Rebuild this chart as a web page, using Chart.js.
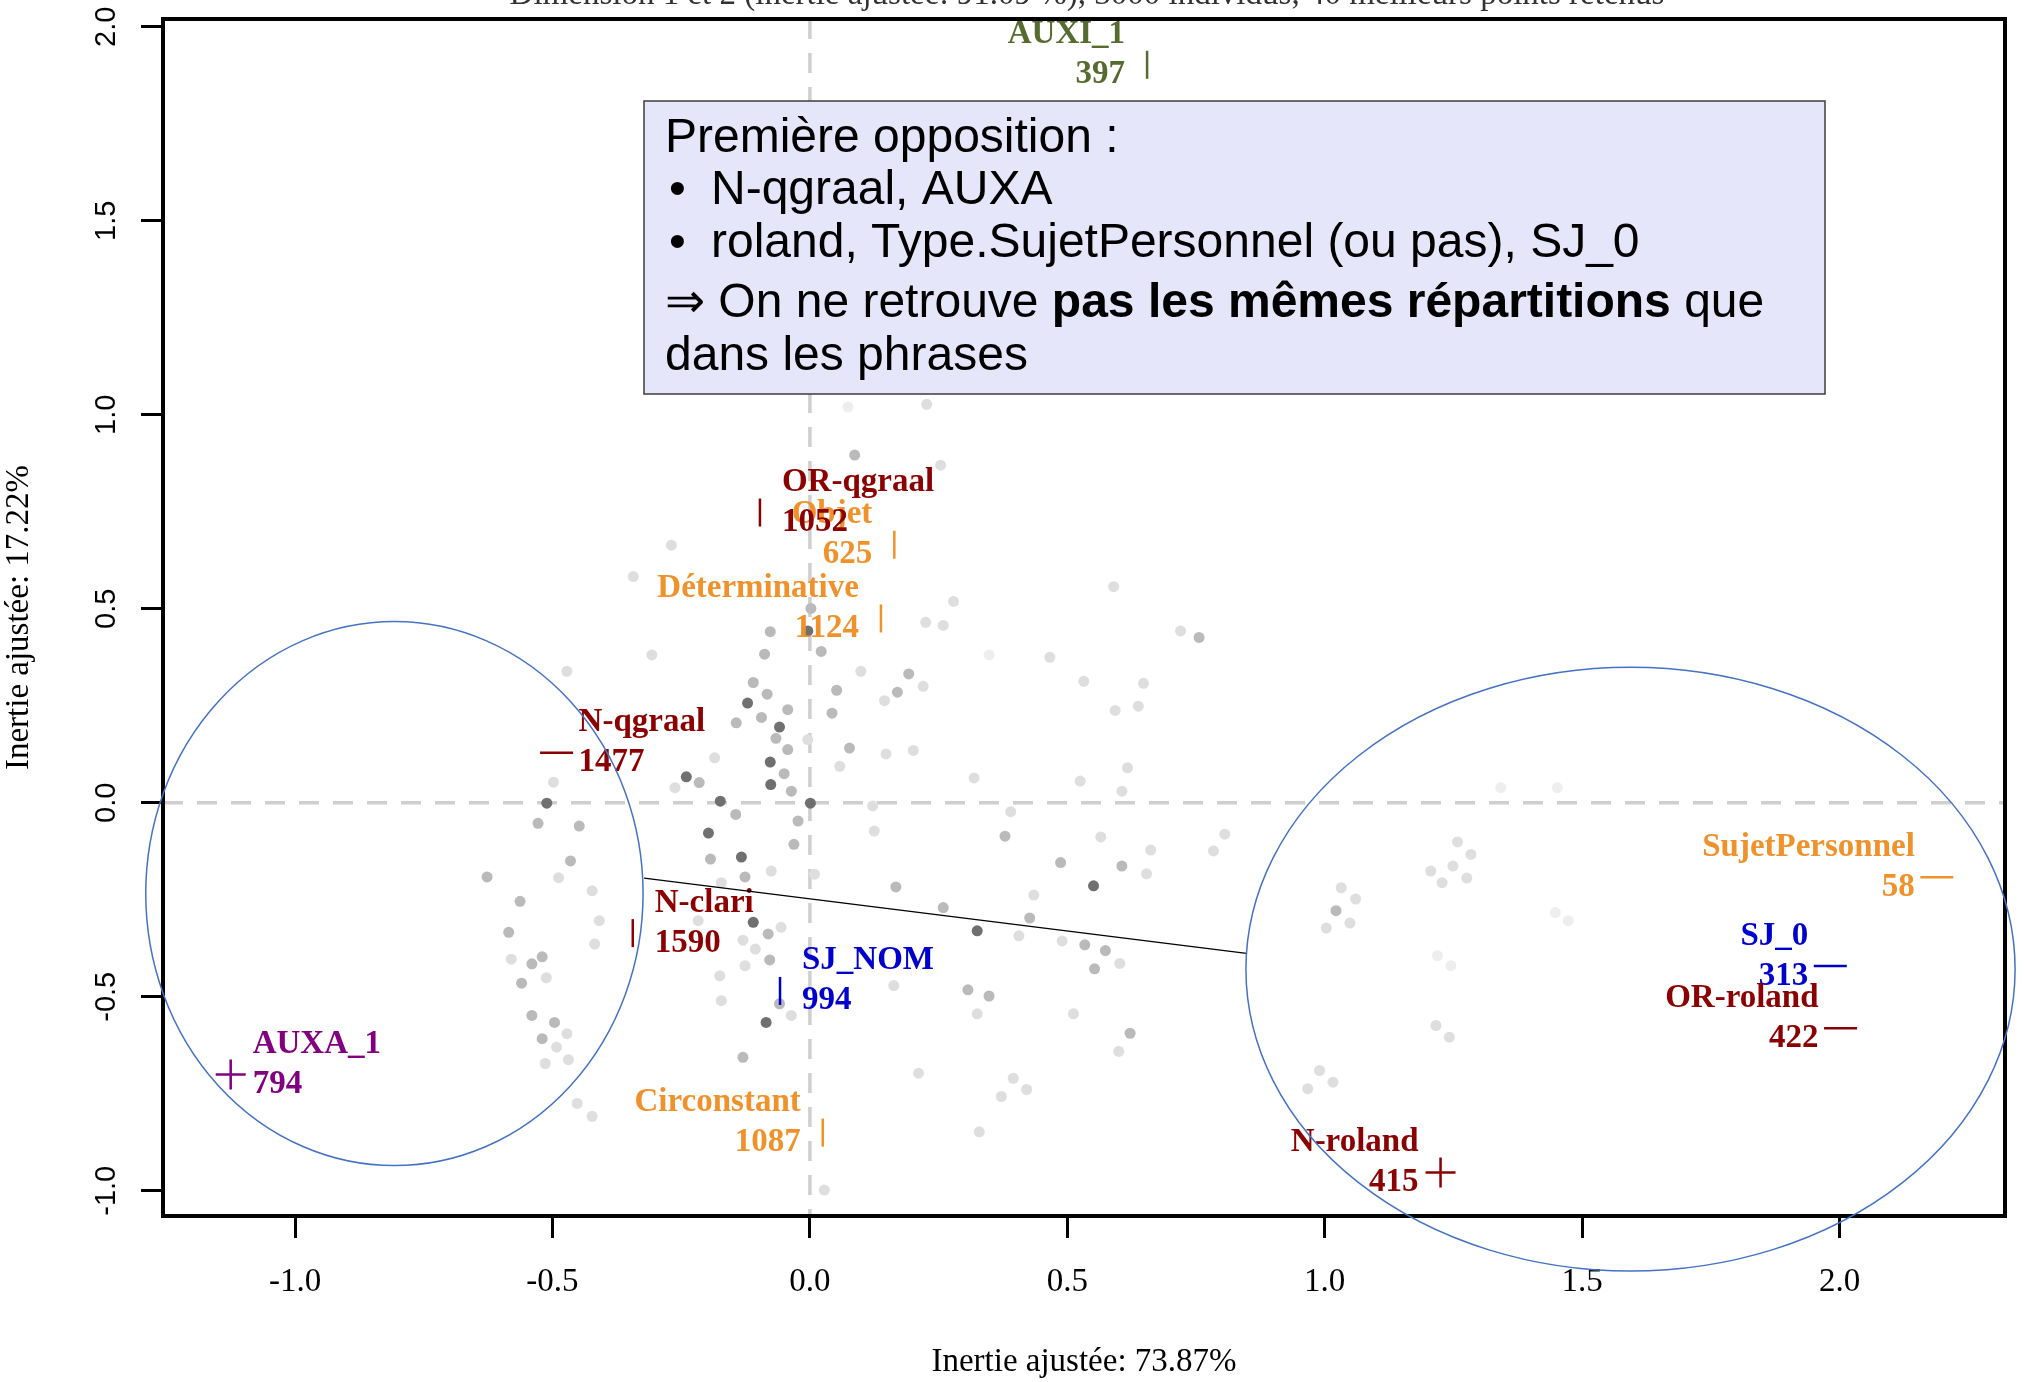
<!DOCTYPE html>
<html>
<head>
<meta charset="utf-8">
<script src="https://cdn.jsdelivr.net/npm/chart.js@4.4.0/dist/chart.umd.min.js"></script>
<style>
  html, body { margin: 0; padding: 0; background: #fff; }
  canvas { display: block; }
</style>
</head>
<body>
<canvas id="afc" width="2024" height="1382"></canvas>
<script>
// Modalités projetées
const catNames  = ['AUXI_1', 'Objet', 'OR-qgraal', 'Déterminative', 'N-qgraal', 'N-clari', 'SJ_NOM',
                   'AUXA_1', 'Circonstant', 'N-roland', 'SujetPersonnel', 'SJ_0', 'OR-roland'];
const catCounts = [397, 625, 1052, 1124, 1477, 1590, 994, 794, 1087, 415, 58, 313, 422];
const catX = [0.655, 0.164, -0.097, 0.138, -0.492, -0.344, -0.058, -1.125, 0.025, 1.225, 2.189, 1.982, 2.002];
const catY = [1.902, 0.665, 0.748, 0.475, 0.129, -0.336, -0.485, -0.700, -0.850, -0.953, -0.192, -0.421, -0.581];

// Individus (points gris, par intensité)
const darkX = [-0.121, -0.059, -0.077, -0.240, -0.174, 0.001, -0.197, -0.133, -0.110, 0.551, 0.325, -0.511, -0.076, -0.004, -0.085];
const darkY = [0.257, 0.195, 0.105, 0.067, 0.004, -0.001, -0.078, -0.140, -0.308, -0.214, -0.330, -0.001, 0.047, 0.443, -0.566];

const midX = [-0.110, -0.066, -0.043, -0.094, -0.036, -0.023, -0.031, 0.043, 0.077, 0.052, -0.083, -0.143, -0.050,
              -0.193, -0.126, -0.448, -0.528, -0.465, -0.627, -0.563, -0.215, -0.144, -0.088, -0.077, 0.022, -0.043,
              -0.585, -0.540, -0.520, -0.560, -0.540, -0.496, -0.520, -0.081, -0.078, -0.130, -0.059, 0.756, 0.192,
              0.170, 0.379, 0.487, 0.606, 0.259, 0.427, 0.534, 0.574, 0.553, 0.307, 0.348, 0.622, 1.022, 0.167,
              0.087, 0.002];
const midY = [0.310, 0.166, 0.137, 0.220, 0.030, -0.047, -0.107, 0.231, 0.141, 0.290, 0.280, 0.206, 0.075,
              -0.145, -0.191, -0.060, -0.053, -0.150, -0.191, -0.254, 0.052, -0.030, 0.383, 0.441, 0.390, 0.240,
              -0.334, -0.415, -0.397, -0.465, -0.548, -0.566, -0.608, -0.338, -0.405, -0.656, -0.518, 0.426, 0.332,
              0.285, -0.086, -0.154, -0.163, -0.270, -0.297, -0.366, -0.381, -0.428, -0.482, -0.498, -0.594, -0.278, -0.217,
              0.896, 0.501];

const lightX = [-0.512, -0.580, -0.492, -0.472, -0.514, -0.469, -0.452, -0.423, -0.409, -0.418, -0.130, -0.106, -0.126,
                -0.175, -0.036, -0.172, -0.056, 0.028, -0.217, 0.220, 0.145, 0.259, 0.279, 0.225, 0.466, 0.532, 0.648,
                0.593, 0.638, 0.720, 0.590, 0.201, 0.148, 0.617, 0.606, 0.525, 0.390, 0.565, 0.662, 0.806, 0.784, 0.319,
                0.654, 0.435, 0.406, 0.490, 0.602, 0.325, 0.600, 0.395, 0.372, 0.421, 0.329, 0.211, 0.163, 0.512,
                1.258, 1.284, 1.249, 1.276, 1.206, 1.228, 1.032, 1.049, 1.003, 1.060, 1.216, 1.242, 0.990, 0.967, 1.016,
                0.099, 0.122, 0.125, -0.472, -0.307, -0.185, -0.004, -0.262, 0.058, -0.423, -0.488, -0.172, -0.498,
                -0.075, 0.009, 0.227, -0.343, -0.269, 0.254];
const lightY = [-0.451, -0.403, -0.630, -0.595, -0.672, -0.662, -0.775, -0.808, -0.304, -0.364, -0.354, -0.377, -0.420,
                -0.446, -0.548, -0.510, -0.321, -0.998, -0.304, 0.300, 0.263, 0.457, 0.519, 0.465, 0.375, 0.313, 0.308,
                0.238, 0.249, 0.443, 0.557, 0.135, 0.126, 0.090, 0.030, 0.056, -0.023, -0.088, -0.122, -0.081, -0.124, 0.064,
                -0.183, -0.238, -0.343, -0.356, -0.414, -0.544, -0.641, -0.710, -0.757, -0.739, -0.848, -0.697, -0.471, -0.544,
                -0.101, -0.133, -0.163, -0.194, -0.176, -0.206, -0.219, -0.310, -0.323, -0.248, -0.574, -0.604, -0.690, -0.737, -0.720,
                0.339, -0.008, -0.073, 0.339, 0.381, 0.116, 0.163, 0.039, 0.094, -0.227, -0.193, -0.206, 0.053,
                -0.176, -0.184, 1.027, 0.583, 0.664, 0.870];

const faintX = [1.219, 1.245, 1.448, 1.473, 1.342, 1.452, 0.348, 0.074];
const faintY = [-0.394, -0.420, -0.283, -0.304, 0.039, 0.039, 0.381, 1.020];

const xTicks = [-1.0, -0.5, 0.0, 0.5, 1.0, 1.5, 2.0];
const yTicks = [-1.0, -0.5, 0.0, 0.5, 1.0, 1.5, 2.0];

// style des modalités
const RED = '#8B0000', ORANGE = '#F0922B', BLUE = '#0000CD';
const catColors = ['#556B2F', ORANGE, RED, ORANGE, RED, RED, BLUE, '#800080', ORANGE, RED, ORANGE, BLUE, RED];
const catShape  = ['v', 'v', 'v', 'v', 'h', 'v', 'v', '+', 'v', '+', 'h', 'h', 'h'];
const catSide   = ['L', 'L', 'R', 'L', 'R', 'R', 'R', 'R', 'L', 'L', 'L', 'L', 'L'];

// annotations ajoutées par dessus (coordonnées dans le repère)
const ellipses = [
  {cx: -0.807, cy: -0.234, rx: 0.483, ry: 0.701},
  {cx: 1.594, cy: -0.429, rx: 0.747, ry: 0.778}
];
const link = {x1: -0.322, y1: -0.194, x2: 0.848, y2: -0.388};

const pts = (xs, ys) => xs.map((x, i) => ({x, y: ys[i]}));
const SERIF = '"Liberation Serif", "DejaVu Serif", serif';
const SANS = '"Liberation Sans", Arial, sans-serif';

const zeroLines = {
  id: 'zeroLines',
  beforeDatasetsDraw(chart) {
    const {ctx, chartArea: a, scales: {x, y}} = chart;
    const x0 = x.getPixelForValue(0), y0 = y.getPixelForValue(0);
    ctx.save();
    ctx.strokeStyle = '#cfcfcf';
    ctx.lineWidth = 3.5;
    ctx.setLineDash([20, 14]);
    ctx.beginPath();
    ctx.moveTo(a.left, y0); ctx.lineTo(a.right, y0);
    ctx.moveTo(x0, a.top); ctx.lineTo(x0, a.bottom);
    ctx.stroke();
    ctx.restore();
  }
};

const catLabels = {
  id: 'catLabels',
  afterDatasetsDraw(chart) {
    const ctx = chart.ctx;
    const meta = chart.getDatasetMeta(0);
    ctx.save();
    ctx.font = 'bold 33px ' + SERIF;
    ctx.textBaseline = 'middle';
    meta.data.forEach((pt, i) => {
      const right = catSide[i] === 'R';
      const tx = pt.x + (right ? 22 : -22);
      ctx.textAlign = right ? 'left' : 'right';
      ctx.fillStyle = catColors[i];
      ctx.fillText(catNames[i], tx, pt.y - 30);
      ctx.fillText(String(catCounts[i]), tx, pt.y + 10);
    });
    ctx.restore();
  }
};

const frame = {
  id: 'frame',
  afterDraw(chart) {
    const {ctx, chartArea: a, scales: {x, y}} = chart;
    ctx.save();

    // cadre
    ctx.strokeStyle = '#000';
    ctx.lineWidth = 4;
    ctx.strokeRect(a.left, a.top, a.right - a.left, a.bottom - a.top);

    // étiquettes de l'axe vertical (verticales, comme dans R)
    ctx.fillStyle = '#000';
    ctx.font = '29px ' + SANS;
    ctx.textAlign = 'center';
    ctx.textBaseline = 'middle';
    y.ticks.forEach(t => {
      ctx.save();
      ctx.translate(107, y.getPixelForValue(t.value));
      ctx.rotate(-Math.PI / 2);
      ctx.fillText(t.value.toFixed(1), 0, 0);
      ctx.restore();
    });

    // titre (coupé en haut de l'image)
    ctx.fillStyle = '#333';
    ctx.font = '33px ' + SERIF;
    ctx.textBaseline = 'alphabetic';
    ctx.fillText('Dimension 1 et 2 (inertie ajustée: 91.09 %), 3000 individus, 40 meilleurs points retenus', 1087, 4);

    // trait de liaison
    ctx.strokeStyle = '#000';
    ctx.lineWidth = 1.3;
    ctx.beginPath();
    ctx.moveTo(x.getPixelForValue(link.x1), y.getPixelForValue(link.y1));
    ctx.lineTo(x.getPixelForValue(link.x2), y.getPixelForValue(link.y2));
    ctx.stroke();

    // ellipses
    ctx.strokeStyle = '#4472C4';
    ctx.lineWidth = 1.5;
    ellipses.forEach(e => {
      const cx = x.getPixelForValue(e.cx), cy = y.getPixelForValue(e.cy);
      const rx = Math.abs(x.getPixelForValue(e.cx + e.rx) - cx);
      const ry = Math.abs(y.getPixelForValue(e.cy + e.ry) - cy);
      ctx.beginPath();
      ctx.ellipse(cx, cy, rx, ry, 0, 0, 2 * Math.PI);
      ctx.stroke();
    });

    // encadré de commentaire
    ctx.fillStyle = '#E6E6FA';
    ctx.fillRect(644, 101, 1181, 293);
    ctx.strokeStyle = '#3c3c3c';
    ctx.lineWidth = 1.5;
    ctx.strokeRect(644, 101, 1181, 293);

    ctx.fillStyle = '#000';
    ctx.textAlign = 'left';
    ctx.textBaseline = 'middle';
    const normal = '48px ' + SANS, bold = 'bold 48px ' + SANS;
    ctx.font = normal;
    ctx.fillText('Première opposition :', 665, 139);
    ctx.fillText('•', 669, 191);
    ctx.fillText('N-qgraal, AUXA', 711, 191);
    ctx.fillText('•', 669, 244);
    ctx.fillText('roland, Type.SujetPersonnel (ou pas), SJ_0', 711, 244);
    let cx = 665;
    const runs = [['⇒ On ne retrouve ', normal], ['pas les mêmes répartitions', bold], [' que', normal]];
    runs.forEach(([txt, f]) => {
      ctx.font = f;
      ctx.fillText(txt, cx, 304);
      cx += ctx.measureText(txt).width;
    });
    ctx.font = normal;
    ctx.fillText('dans les phrases', 665, 357);

    ctx.restore();
  }
};

new Chart(document.getElementById('afc'), {
  type: 'scatter',
  data: {
    datasets: [
      {
        data: pts(catX, catY),
        pointStyle: catShape.map(s => s === '+' ? 'cross' : 'line'),
        pointRotation: catShape.map(s => s === 'v' ? 90 : 0),
        pointRadius: catShape.map(s => s === 'h' ? 16.5 : (s === '+' ? 15 : 14)),
        pointBorderColor: catColors,
        pointBackgroundColor: catColors,
        pointBorderWidth: 2.5
      },
      { data: pts(darkX, darkY), pointRadius: 5.5, pointBorderWidth: 0, pointBackgroundColor: 'rgb(112,112,112)' },
      { data: pts(midX, midY), pointRadius: 5.5, pointBorderWidth: 0, pointBackgroundColor: 'rgb(186,186,186)' },
      { data: pts(lightX, lightY), pointRadius: 5.5, pointBorderWidth: 0, pointBackgroundColor: 'rgb(222,222,222)' },
      { data: pts(faintX, faintY), pointRadius: 5.5, pointBorderWidth: 0, pointBackgroundColor: 'rgb(238,238,238)' }
    ]
  },
  options: {
    responsive: false,
    animation: false,
    devicePixelRatio: 1,
    layout: { padding: { top: 16, right: 13, left: 0, bottom: 0 } },
    plugins: { legend: { display: false }, tooltip: { enabled: false } },
    scales: {
      x: {
        type: 'linear',
        min: -1.2565,
        max: 2.3214,
        afterBuildTicks: s => { s.ticks = xTicks.map(v => ({value: v})); },
        afterFit: s => { s.height = 166; s.paddingLeft = 0; s.paddingRight = 0; },
        border: { display: false },
        grid: { display: true, drawOnChartArea: false, drawTicks: true, tickLength: 22, tickWidth: 3, tickColor: '#000' },
        ticks: {
          font: { family: SERIF, size: 33 },
          color: '#000',
          padding: 25,
          maxRotation: 0,
          autoSkip: false,
          callback: v => Number(v).toFixed(1)
        },
        title: {
          display: true,
          text: 'Inertie ajustée: 73.87%',
          font: { family: SERIF, size: 33 },
          color: '#000',
          padding: { top: 0, bottom: 0 }
        }
      },
      y: {
        type: 'linear',
        min: -1.065,
        max: 2.02,
        afterBuildTicks: s => { s.ticks = yTicks.map(v => ({value: v})); },
        afterFit: s => { s.width = 163; s.paddingTop = 0; s.paddingBottom = 0; },
        border: { display: false },
        grid: { display: true, drawOnChartArea: false, drawTicks: true, tickLength: 22, tickWidth: 3, tickColor: '#000' },
        ticks: { display: false },
        title: {
          display: true,
          text: 'Inertie ajustée: 17.22%',
          font: { family: SERIF, size: 33 },
          color: '#000',
          padding: { top: 0, bottom: 0 }
        }
      }
    }
  },
  plugins: [zeroLines, catLabels, frame]
});
</script>
</body>
</html>
